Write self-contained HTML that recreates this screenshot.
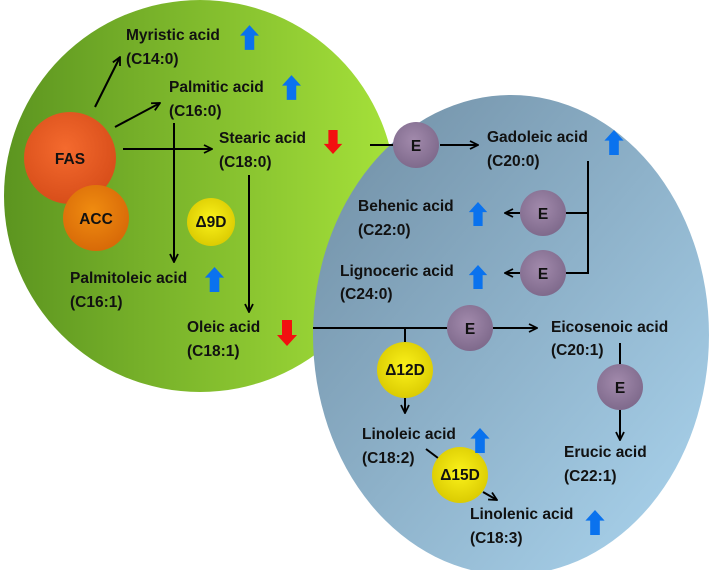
<!DOCTYPE html>
<html><head><style>
html,body{margin:0;padding:0;background:#fff;}
svg{display:block;}
text{font-family:"Liberation Sans",sans-serif;font-weight:bold;font-size:15.5px;fill:#111;}
</style></head><body>
<svg width="709" height="570" viewBox="0 0 709 570" xmlns="http://www.w3.org/2000/svg">
<defs>
<linearGradient id="g" x1="0" y1="0" x2="1" y2="0">
<stop offset="0" stop-color="#5c9520"/><stop offset="1" stop-color="#a6e23a"/></linearGradient>
<linearGradient id="b" x1="0" y1="0" x2="1" y2="1">
<stop offset="0" stop-color="#6f8da3"/><stop offset="1" stop-color="#acd6f0"/></linearGradient>
<radialGradient id="fas" cx="0.45" cy="0.4" r="0.6"><stop offset="0" stop-color="#f46a2e"/><stop offset="1" stop-color="#d84e1a"/></radialGradient>
<radialGradient id="acc" cx="0.45" cy="0.4" r="0.6"><stop offset="0" stop-color="#f08c10"/><stop offset="1" stop-color="#d86a08"/></radialGradient>
<radialGradient id="y" cx="0.5" cy="0.45" r="0.6"><stop offset="0" stop-color="#fbf21a"/><stop offset="1" stop-color="#d8c800"/></radialGradient>
<radialGradient id="e" cx="0.45" cy="0.4" r="0.6"><stop offset="0" stop-color="#a28aac"/><stop offset="1" stop-color="#7f6a8c"/></radialGradient>
<marker id="a" viewBox="0 0 10 10" refX="9" refY="5" markerWidth="10" markerHeight="10" orient="auto" markerUnits="userSpaceOnUse"><path d="M1,1 L9,5 L1,9" fill="none" stroke="#000" stroke-width="1.8"/></marker>
<symbol id="up" viewBox="0 0 20 26"><path d="M10,0 L20,11 L15,11 L15,26 L5,26 L5,11 L0,11Z" fill="#0a72ee"/></symbol>
<symbol id="dn" viewBox="0 0 20 26"><path d="M5,0 L15,0 L15,15 L20,15 L10,26 L0,15 L5,15Z" fill="#f21010"/></symbol>
</defs>
<circle cx="200" cy="196" r="196" fill="url(#g)"/>
<ellipse cx="511" cy="335" rx="198" ry="240" fill="url(#b)"/>
<g stroke="#000" stroke-width="2" fill="none">
<line x1="95" y1="107" x2="120" y2="57" marker-end="url(#a)"/>
<line x1="115" y1="127" x2="160" y2="103" marker-end="url(#a)"/>
<line x1="123" y1="149" x2="212" y2="149" marker-end="url(#a)"/>
<line x1="174" y1="123" x2="174" y2="262" marker-end="url(#a)"/>
<line x1="249" y1="175" x2="249" y2="312" marker-end="url(#a)"/>
<line x1="370" y1="145" x2="400" y2="145"/>
<line x1="440" y1="145" x2="478" y2="145" marker-end="url(#a)"/>
<polyline points="588,161 588,273 566,273"/>
<line x1="588" y1="213" x2="566" y2="213"/>
<line x1="520" y1="213" x2="505" y2="213" marker-end="url(#a)"/>
<line x1="520" y1="273" x2="505" y2="273" marker-end="url(#a)"/>
<line x1="313" y1="328" x2="448" y2="328"/>
<line x1="493" y1="328" x2="537" y2="328" marker-end="url(#a)"/>
<line x1="405" y1="328" x2="405" y2="343"/>
<line x1="405" y1="398" x2="405" y2="413" marker-end="url(#a)"/>
<line x1="426" y1="449" x2="438" y2="458"/>
<line x1="483" y1="492" x2="497" y2="500" marker-end="url(#a)"/>
<line x1="620" y1="343" x2="620" y2="365"/>
<line x1="620" y1="410" x2="620" y2="440" marker-end="url(#a)"/>
</g>
<circle cx="70" cy="158" r="46" fill="url(#fas)"/>
<circle cx="96" cy="218" r="33" fill="url(#acc)"/>
<circle cx="211" cy="222" r="24" fill="url(#y)"/>
<circle cx="416" cy="145" r="23" fill="url(#e)"/>
<circle cx="543" cy="213" r="23" fill="url(#e)"/>
<circle cx="543" cy="273" r="23" fill="url(#e)"/>
<circle cx="470" cy="328" r="23" fill="url(#e)"/>
<circle cx="620" cy="387" r="23" fill="url(#e)"/>
<circle cx="405" cy="370" r="28" fill="url(#y)"/>
<circle cx="460" cy="475" r="28" fill="url(#y)"/>
<g text-anchor="middle">
<text x="70" y="164">FAS</text><text x="96" y="224">ACC</text><text x="211" y="227" font-size="13.5">Δ9D</text>
<text x="416" y="151">E</text><text x="543" y="219">E</text><text x="543" y="279">E</text><text x="470" y="334">E</text><text x="620" y="393">E</text>
<text x="405" y="375" font-size="14.5">Δ12D</text><text x="460" y="480" font-size="14.5">Δ15D</text>
</g>
<text x="126" y="40">Myristic acid</text><text x="126" y="64">(C14:0)</text>
<text x="169" y="92">Palmitic acid</text><text x="169" y="116">(C16:0)</text>
<text x="219" y="143">Stearic acid</text><text x="219" y="167">(C18:0)</text>
<text x="70" y="283">Palmitoleic acid</text><text x="70" y="307">(C16:1)</text>
<text x="187" y="332">Oleic acid</text><text x="187" y="356">(C18:1)</text>
<text x="487" y="142">Gadoleic acid</text><text x="487" y="166">(C20:0)</text>
<text x="358" y="211">Behenic acid</text><text x="358" y="235">(C22:0)</text>
<text x="340" y="276">Lignoceric acid</text><text x="340" y="299">(C24:0)</text>
<text x="551" y="332">Eicosenoic acid</text><text x="551" y="355">(C20:1)</text>
<text x="362" y="439">Linoleic acid</text><text x="362" y="463">(C18:2)</text>
<text x="564" y="457">Erucic acid</text><text x="564" y="481">(C22:1)</text>
<text x="470" y="519">Linolenic acid</text><text x="470" y="543">(C18:3)</text>
<use href="#up" x="240" y="25" width="19" height="25"/>
<use href="#up" x="282" y="75" width="19" height="25"/>
<use href="#dn" x="323" y="130" width="20" height="24"/>
<use href="#up" x="204" y="267" width="21" height="25"/>
<use href="#dn" x="277" y="320" width="20" height="26"/>
<use href="#up" x="604" y="130" width="20" height="25"/>
<use href="#up" x="468" y="202" width="20" height="24"/>
<use href="#up" x="468" y="265" width="20" height="24"/>
<use href="#up" x="470" y="428" width="20" height="25"/>
<use href="#up" x="585" y="510" width="20" height="25"/>
</svg>
</body></html>
